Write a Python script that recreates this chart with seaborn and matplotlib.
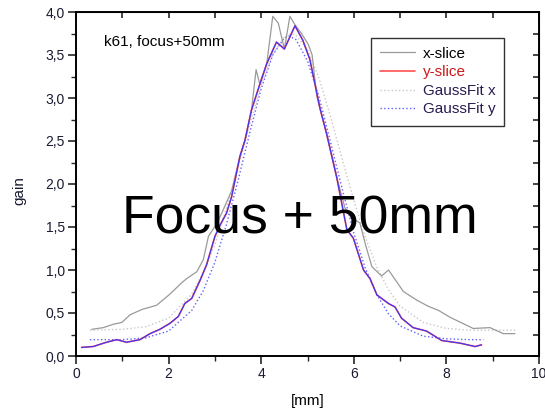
import matplotlib
matplotlib.use("Agg")
import numpy as np
import matplotlib.pyplot as plt
import matplotlib.ticker as mticker
import seaborn as sns

# x-slice
xslice_pos = [0.34, 0.59, 0.81, 0.99, 1.17, 1.42, 1.74, 2.03, 2.28, 2.39, 2.61, 2.75,
              2.86, 3.04, 3.18, 3.36, 3.54, 3.65, 3.79, 3.89, 3.97, 4.12, 4.25, 4.37,
              4.50, 4.62, 4.73, 4.87, 5.02, 5.10, 5.20, 5.41, 5.63, 5.81, 5.95, 6.13,
              6.25, 6.39, 6.60, 6.75, 6.93, 7.07, 7.36, 7.60, 7.83, 8.08, 8.35, 8.58,
              8.94, 9.23, 9.48]
xslice_gain = [0.31, 0.33, 0.37, 0.39, 0.48, 0.54, 0.59, 0.72, 0.85, 0.90, 0.98, 1.12,
               1.39, 1.54, 1.70, 1.92, 2.32, 2.51, 2.86, 3.33, 3.16, 3.40, 3.95, 3.87,
               3.57, 3.95, 3.85, 3.75, 3.62, 3.50, 3.02, 2.59, 2.08, 1.72, 1.60, 1.55,
               1.30, 1.04, 0.93, 1.00, 0.86, 0.75, 0.65, 0.58, 0.53, 0.45, 0.38, 0.32,
               0.33, 0.26, 0.26]

# y-slice
yslice_pos = [0.12, 0.37, 0.66, 0.88, 1.09, 1.38, 1.60, 1.81, 2.03, 2.21, 2.35, 2.50,
              2.68, 2.82, 3.00, 3.11, 3.25, 3.36, 3.54, 3.65, 3.79, 3.97, 4.12, 4.33,
              4.50, 4.73, 4.90, 5.05, 5.27, 5.41, 5.63, 5.85, 5.99, 6.21, 6.35, 6.50,
              6.75, 6.89, 7.03, 7.28, 7.57, 7.90, 8.29, 8.62, 8.76]
yslice_gain = [0.10, 0.11, 0.16, 0.19, 0.16, 0.19, 0.26, 0.31, 0.38, 0.46, 0.61, 0.67,
               0.88, 1.06, 1.39, 1.52, 1.66, 1.85, 2.32, 2.51, 2.86, 3.16, 3.40, 3.65,
               3.57, 3.84, 3.67, 3.45, 2.88, 2.59, 2.08, 1.47, 1.37, 1.00, 0.90, 0.71,
               0.61, 0.57, 0.44, 0.33, 0.29, 0.18, 0.15, 0.11, 0.13]

# Gauss fits
fitx_pos = [0.3, 1.0, 1.5, 2.0, 2.5, 2.75, 3.0, 3.25, 3.5, 3.75, 4.0, 4.25, 4.5, 4.65,
            4.75, 5.0, 5.25, 5.5, 5.75, 6.0, 6.25, 6.5, 6.75, 7.0, 7.5, 8.0, 8.5, 9.0, 9.5]
fitx_gain = [0.30, 0.31, 0.34, 0.44, 0.72, 0.97, 1.30, 1.72, 2.19, 2.69, 3.15, 3.51, 3.71,
             3.75, 3.73, 3.56, 3.23, 2.78, 2.29, 1.81, 1.38, 1.03, 0.77, 0.58, 0.39, 0.32,
             0.30, 0.30, 0.30]
fity_pos = [0.3, 1.0, 1.5, 2.0, 2.5, 2.75, 3.0, 3.25, 3.5, 3.75, 4.0, 4.25, 4.5, 4.6,
            4.75, 5.0, 5.25, 5.5, 5.75, 6.0, 6.25, 6.5, 6.75, 7.0, 7.5, 8.0, 8.5, 8.8]
fity_gain = [0.19, 0.19, 0.21, 0.29, 0.53, 0.76, 1.09, 1.53, 2.04, 2.59, 3.11, 3.50, 3.70,
             3.72, 3.68, 3.43, 3.01, 2.48, 1.94, 1.43, 1.02, 0.71, 0.49, 0.35, 0.23, 0.20,
             0.19, 0.19]

sns.set_style("ticks")
plt.rcParams["font.family"] = ["Liberation Sans", "DejaVu Sans"]
plt.rcParams["text.color"] = "black"
plt.rcParams["axes.labelcolor"] = "black"

W, H = 545, 412
fig = plt.figure(figsize=(W / 100, H / 100), dpi=100)
ax = fig.add_axes([76 / W, 1 - 356 / H, 463 / W, 344 / H])

sns.lineplot(x=fitx_pos, y=fitx_gain, ax=ax, color="#c8c8c8", lw=1.0,
             linestyle=":", label="GaussFit x", estimator=None, sort=False)
sns.lineplot(x=fity_pos, y=fity_gain, ax=ax, color="#6060ff", lw=1.0,
             linestyle=":", label="GaussFit y", estimator=None, sort=False)
sns.lineplot(x=xslice_pos, y=xslice_gain, ax=ax, color="#9a9a9a", lw=0.9,
             label="x-slice", estimator=None, sort=False)
sns.lineplot(x=yslice_pos, y=yslice_gain, ax=ax, color="#ff5050", lw=1.2,
             label="y-slice", estimator=None, sort=False)
# blue trace drawn over the red one in the original
ax.plot(yslice_pos, yslice_gain, color="#3535ff", lw=0.8)

ax.set_xlim(0, 10)
ax.set_ylim(0, 4)
ax.xaxis.set_major_locator(mticker.MultipleLocator(2))
ax.xaxis.set_minor_locator(mticker.MultipleLocator(1))
ax.yaxis.set_major_locator(mticker.MultipleLocator(0.5))
ax.yaxis.set_minor_locator(mticker.MultipleLocator(0.25))
ax.yaxis.set_major_formatter(mticker.FuncFormatter(lambda v, p: f"{v:.1f}".replace(".", ",")))
ax.tick_params(which="major", direction="out", length=6, width=1.2,
               labelsize=10, labelcolor="#1a1a30", pad=2)
ax.tick_params(which="minor", direction="out", length=3.5, width=1.0)
for s in ax.spines.values():
    s.set_linewidth(1.4)
    s.set_color("black")

top = ax.secondary_xaxis("top")
top.set_xticks(np.arange(0, 11, 1))
top.tick_params(direction="in", length=4, width=1.2, labeltop=False)
right = ax.secondary_yaxis("right")
right.set_yticks(np.arange(0, 4.01, 0.25))
right.tick_params(direction="in", length=4, width=1.2, labelright=False)

ax.set_xlabel("[mm]", fontsize=11)
ax.set_ylabel("gain", fontsize=11, color="#1a1a30")
ax.xaxis.set_label_coords(0.5, -0.11)
ax.yaxis.set_label_coords(-0.108, 0.48)

handles, labels = ax.get_legend_handles_labels()
order = [labels.index(n) for n in ["x-slice", "y-slice", "GaussFit x", "GaussFit y"]]
leg = ax.legend([handles[i] for i in order], [labels[i] for i in order],
                loc="upper left", bbox_to_anchor=(0.62, 0.948), fontsize=11,
                frameon=True, fancybox=False, edgecolor="#333333", framealpha=1,
                handlelength=2.3, labelspacing=0.3, borderpad=0.6, handletextpad=0.5)
leg.get_frame().set_linewidth(1.0)
for t, c in zip(leg.get_texts(), ["black", "#d01818", "#2a1a50", "#2a1a50"]):
    t.set_color(c)

fig.text(104 / W, 1 - 46 / H, "k61, focus+50mm", fontsize=11, ha="left", va="baseline")
fig.text(300 / W, 1 - 233 / H, "Focus + 50mm", fontsize=38.5, ha="center",
         va="baseline", color="black")

fig.savefig("out.png", dpi=100)
